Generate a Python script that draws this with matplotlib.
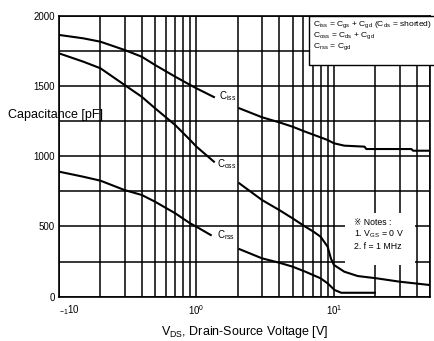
import matplotlib
matplotlib.use("Agg")
import matplotlib.pyplot as plt
from matplotlib.patches import Rectangle

plt.rcParams['font.family'] = ['Liberation Sans', 'DejaVu Sans']
plt.rcParams['mathtext.fontset'] = 'custom'
plt.rcParams['mathtext.rm'] = 'Liberation Sans'
plt.rcParams['mathtext.it'] = 'Liberation Sans'

# capacitance curves, low-voltage part (V, pF)
ciss_v1 = [0.1, 0.15, 0.2, 0.3, 0.4, 0.5, 0.7, 0.9, 1.0, 1.34]
ciss_c1 = [1863, 1839, 1815, 1756, 1708, 1649, 1566, 1507, 1483, 1421]
coss_v1 = [0.1, 0.15, 0.2, 0.3, 0.4, 0.5, 0.7, 0.9, 1.0, 1.34]
coss_c1 = [1732, 1673, 1626, 1507, 1423, 1341, 1222, 1115, 1068, 961]
crss_v1 = [0.1, 0.15, 0.2, 0.3, 0.4, 0.5, 0.7, 0.9, 1.0, 1.27]
crss_c1 = [890, 854, 826, 759, 724, 676, 594, 522, 498, 439]

# high-voltage part
ciss_v2 = [2.05, 3.0, 4.0, 5.0, 6.2, 8.0, 9.0, 10.0, 11.9, 16.7, 17.2, 36.6, 37.7, 50]
ciss_c2 = [1341, 1277, 1241, 1210, 1174, 1134, 1115, 1092, 1075, 1068, 1051, 1051, 1039, 1039]
coss_v2 = [2.05, 3.0, 4.0, 5.0, 6.2, 7.1, 8.0, 9.0, 9.5, 10.0, 11.9, 14.9, 20.4, 30, 50]
coss_c2 = [807, 688, 617, 558, 498, 463, 427, 356, 273, 226, 178, 147, 131, 107, 83]
crss_v2 = [2.05, 3.0, 4.0, 5.0, 6.2, 8.0, 9.0, 10.1, 11.3, 19.8]
crss_c2 = [339, 273, 242, 214, 178, 131, 95, 48, 28, 28]

curve_labels = [r'C$_{\mathregular{iss}}$', r'C$_{\mathregular{oss}}$', r'C$_{\mathregular{rss}}$']
label_v = [1.45, 1.42, 1.40]
label_c = [1428, 944, 439]

legend_lines = [
    r'C$_{\mathregular{iss}}$ = C$_{\mathregular{gs}}$ + C$_{\mathregular{gd}}$ (C$_{\mathregular{ds}}$ = shorted)',
    r'C$_{\mathregular{oss}}$ = C$_{\mathregular{ds}}$ + C$_{\mathregular{gd}}$',
    r'C$_{\mathregular{rss}}$ = C$_{\mathregular{gd}}$',
]
note_lines = ['\u203b Notes :', r'1. V$_{\mathregular{GS}}$ = 0 V', '2. f = 1 MHz']

fig = plt.figure(figsize=(4.35, 3.41), dpi=100)
ax = fig.add_axes([0.1356, 0.1299, 0.8529, 0.8241])

ax.set_xscale('log')
ax.set_xlim(0.1, 50)
ax.set_ylim(0, 2000)

# grid: every 250 pF, every minor log step
ax.set_yticks(range(0, 2001, 250))
ax.set_yticklabels(['0', '', '500', '', '1000', '', '1500', '', '2000'])
ax.set_xticks([0.1, 1, 10])
ax.set_xticklabels([r'$_{-1}$10', r'10$^{0}$', r'10$^{1}$'])
ax.xaxis.get_majorticklabels()[0].set_horizontalalignment('left')
ax.grid(True, which='both', color='black', linewidth=1.1)
ax.tick_params(which='both', length=0, labelsize=7, pad=3)
ax.tick_params(axis='x', pad=5)
for s in ax.spines.values():
    s.set_linewidth(1.2)

for v, c in [(ciss_v1, ciss_c1), (coss_v1, coss_c1), (crss_v1, crss_c1),
             (ciss_v2, ciss_c2), (coss_v2, coss_c2), (crss_v2, crss_c2)]:
    ax.plot(v, c, color='black', linewidth=1.5)

for t, v, c in zip(curve_labels, label_v, label_c):
    ax.text(v, c, t, fontsize=7, ha='left', va='center')

# notes with a white patch behind them
ax.add_patch(Rectangle((0.771, 0.113), 0.189, 0.185, transform=ax.transAxes,
                       facecolor='white', edgecolor='none', zorder=3))
for i, t in enumerate(note_lines):
    ax.text(0.795, 0.263 - i * 0.0425, t, transform=ax.transAxes, fontsize=6.3,
            ha='left', va='center', zorder=4)

# formula box in the top right corner
fig.patches.append(Rectangle((0.710, 0.809), 0.29, 0.145, transform=fig.transFigure,
                             facecolor='white', edgecolor='black', linewidth=1.0, zorder=5))
for i, t in enumerate(legend_lines):
    fig.text(0.7195, 0.927 - i * 0.0325, t, fontsize=6.1, ha='left', va='center', zorder=6)

ax.set_xlabel(r'V$_{\mathregular{DS}}$, Drain-Source Voltage [V]', fontsize=9, va='center')
ax.xaxis.set_label_coords(0.5, -0.126)
ax.set_ylabel('Capacitance [pF]', fontsize=9, rotation=0, ha='left', va='center')
ax.yaxis.set_label_coords(-0.137, 0.647)

fig.savefig('out.png', dpi=100)
